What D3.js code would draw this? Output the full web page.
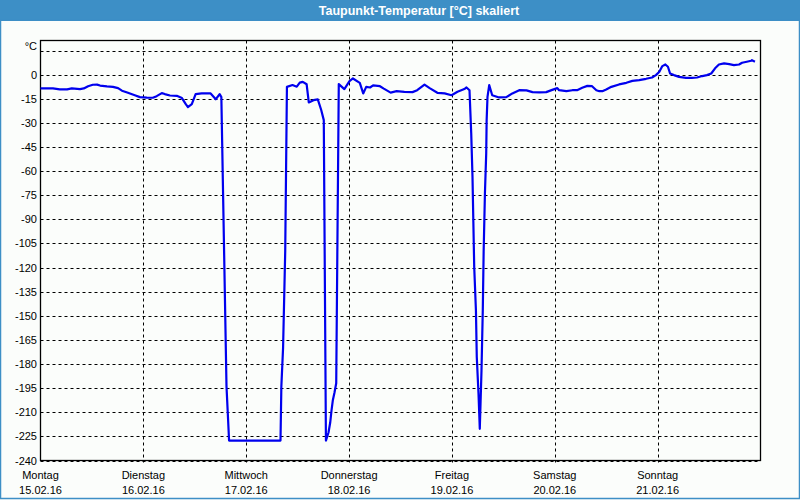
<!DOCTYPE html>
<html>
<head>
<meta charset="utf-8">
<script src="https://cdn.jsdelivr.net/npm/d3@7"></script>
<style>
  body { margin: 0; background: #fbfdfb; }
  svg { display: block; font-family: "Liberation Sans", Arial, sans-serif; }
</style>
</head>
<body>
<div id="chart"></div>
<script>
// ─── DATA ───────────────────────────────────────────────────────────────────────
const chartTitle = 'Taupunkt-Temperatur [°C] skaliert';
const unitLabel = '°C';
const dayNames = ['Montag', 'Dienstag', 'Mittwoch', 'Donnerstag', 'Freitag', 'Samstag', 'Sonntag'];
const dayDates = ['15.02.16', '16.02.16', '17.02.16', '18.02.16', '19.02.16', '20.02.16', '21.02.16'];
const yTicks = [0, -15, -30, -45, -60, -75, -90, -105, -120, -135, -150, -165, -180, -195, -210, -225, -240];

// hours since Montag 00:00
const hours = [
  0, 2.9, 4.5, 6.2, 7.3, 9.2, 10.1, 11.1, 12.2, 13.2, 13.9, 15.5, 16.9, 18.1, 19.0, 20.4, 22.0, 23.2,
  24.8, 26.2, 27.1, 28.3, 29.0, 30.2, 31.8, 33.0, 33.9, 34.4, 35.3, 36.2, 37.6, 39.7, 40.9, 41.8, 42.2,
  43.4, 43.7, 44.0, 56.0, 56.2, 56.6, 57.1, 57.5, 58.8, 59.8, 60.5, 61.2, 62.1, 62.6, 63.7, 64.7, 65.5,
  66.1, 66.6, 67.2, 67.6, 67.9, 68.2, 68.6, 69.0, 69.6, 70.9, 72.1, 72.9, 74.5, 75.3, 76.0, 76.9, 77.6,
  79.2, 80.1, 81.7, 83.1, 84.9, 86.8, 87.9, 89.6, 90.8, 92.6, 94.3, 95.9, 97.3, 98.9, 99.4, 100.1,
  100.5, 100.8, 101.0, 101.2, 101.6, 101.8, 102.2, 102.5, 102.9, 103.2, 103.4, 103.7, 104.0, 104.1,
  104.3, 104.7, 105.4, 107.0, 108.7, 110.1, 111.7, 113.4, 114.8, 116.4, 118.0, 119.4, 120.6, 121.0,
  122.7, 124.1, 125.2, 126.4, 127.6, 128.7, 129.7, 130.4, 131.1, 132.0, 133.2, 135.0, 136.7, 138.1,
  139.7, 141.3, 142.7, 143.6, 144.4, 145.1, 145.8, 146.4, 146.9, 147.8, 149.0, 150.6, 152.0, 153.2,
  154.4, 155.5, 156.5, 157.4, 158.3, 159.5, 160.7, 161.8, 163.0, 163.7, 164.8, 165.8, 166.0, 166.7
];
const dewpoint = [
  -8.6, -8.6, -9.2, -9.2, -8.6, -9.0, -8.6, -7.2, -6.3, -6.2, -6.8, -7.3, -7.6, -8.4, -10.0, -11.3, -12.8, -14.0,
  -14.3, -14.4, -13.4, -11.5, -12.1, -13.0, -13.2, -14.6, -18.4, -20.2, -18.4, -12.1, -11.7, -11.7, -15.3, -12.1, -14.0,
  -193.9, -210.6, -227.6, -227.6, -193.9, -170, -110, -7.6, -6.5, -7.5, -5.0, -4.5, -6.0, -17.3, -15.9, -15.4, -22.0,
  -28.3, -227.6, -222.6, -216.4, -208.9, -202.7, -197.7, -192.0, -5.9, -9.0, -4.0, -2.4, -5.1, -11.7, -7.6, -8.0, -6.7,
  -7.2, -8.7, -11.2, -10.3, -10.7, -10.9, -9.7, -6.2, -8.4, -11.3, -11.7, -12.8, -10.7, -9.0, -8.0, -9.7,
  -36.4, -63.6, -91.6, -119.6, -146.6, -175.7, -198.3, -220.3, -184.0, -146.6, -110.3, -74.0, -49.0, -28.3,
  -13.8, -6.5, -12.8, -14.2, -14.0, -11.7, -9.7, -9.8, -10.9, -11.1, -10.9, -9.5, -8.4, -9.7,
  -10.3, -9.7, -9.7, -8.2, -7.0, -7.2, -9.7, -10.3, -10.3, -9.2, -7.6, -6.1, -5.1, -3.9,
  -3.4, -2.6, -1.8, -0.3, 1.8, 5.3, 6.3, 4.9, 0.7, -0.3, -1.4, -2.0, -2.0, -1.8,
  -0.9, -0.3, 0.7, 3.9, 6.3, 7.0, 6.5, 5.9, 6.3, 7.4, 8.0, 8.6, 9.0, 8.0
];

// ─── DIMENSIONS ─────────────────────────────────────────────────────────────────
const W = 800, H = 500;
const plot = {left: 40.5, right: 760.5, top: 40.5, bottom: 460.5};

const svg = d3.select('#chart')
  .append('svg')
  .attr('width', W)
  .attr('height', H);

svg.append('rect')
  .attr('width', W).attr('height', H)
  .attr('fill', '#fbfdfb');

// ─── TITLE BAR ──────────────────────────────────────────────────────────────────
svg.append('rect')
  .attr('x', 0).attr('y', 0)
  .attr('width', W).attr('height', 21)
  .attr('fill', '#3d8fc6');

svg.append('text')
  .attr('x', 419).attr('y', 15)
  .attr('text-anchor', 'middle')
  .attr('fill', '#fff')
  .style('font-size', '12.5px')
  .style('font-weight', 'bold')
  .text(chartTitle);

// window border (left, right, bottom)
svg.append('rect')
  .attr('x', 0.5).attr('y', 20)
  .attr('width', W - 1).attr('height', H - 20.5 - 1)
  .attr('fill', 'none')
  .attr('stroke', '#3d8fc6')
  .attr('stroke-width', 1.5);

// ─── SCALES ─────────────────────────────────────────────────────────────────────
const x = d3.scaleLinear()
  .domain([0, 168])
  .range([plot.left, plot.right]);

const y = d3.scaleLinear()
  .domain([-240, 15])
  .range([plot.bottom, 50.5]);

// ─── GRID ───────────────────────────────────────────────────────────────────────
const dayHours = dayNames.map((d, i) => i * 24);

// horizontal
svg.append('g')
  .selectAll('line')
  .data(yTicks.concat([15]))
  .join('line')
    .attr('x1', plot.left).attr('x2', plot.right)
    .attr('y1', d => Math.round(y(d)) + 0.5)
    .attr('y2', d => Math.round(y(d)) + 0.5)
    .attr('stroke', '#000')
    .attr('stroke-dasharray', '3,3');

// vertical (with a small tick below the frame)
svg.append('g')
  .selectAll('line')
  .data(dayHours.slice(1))
  .join('line')
    .attr('x1', d => Math.round(x(d)) + 0.5)
    .attr('x2', d => Math.round(x(d)) + 0.5)
    .attr('y1', plot.top).attr('y2', plot.bottom + 2)
    .attr('stroke', '#000')
    .attr('stroke-dasharray', '3,3');

// ─── FRAME ──────────────────────────────────────────────────────────────────────
svg.append('rect')
  .attr('x', plot.left).attr('y', plot.top)
  .attr('width', plot.right - plot.left)
  .attr('height', plot.bottom - plot.top)
  .attr('fill', 'none')
  .attr('stroke', '#000')
  .attr('stroke-width', 1.3);

// ─── Y LABELS ───────────────────────────────────────────────────────────────────
svg.append('g')
  .selectAll('text')
  .data(yTicks)
  .join('text')
    .attr('x', 37)
    .attr('y', d => y(d) + 4)
    .attr('text-anchor', 'end')
    .style('font-size', '11px')
    .text(d => d);

svg.append('text')
  .attr('x', 37)
  .attr('y', y(15) - 1)
  .attr('text-anchor', 'end')
  .style('font-size', '11px')
  .text(unitLabel);

// ─── X LABELS ───────────────────────────────────────────────────────────────────
const xLab = svg.append('g')
  .selectAll('g')
  .data(dayHours)
  .join('g')
    .attr('transform', d => `translate(${x(d)},0)`);

xLab.append('text')
  .attr('y', 479)
  .attr('text-anchor', 'middle')
  .style('font-size', '11px')
  .text((d, i) => dayNames[i]);

xLab.append('text')
  .attr('y', 494)
  .attr('text-anchor', 'middle')
  .style('font-size', '11px')
  .text((d, i) => dayDates[i]);

// ─── LINE ───────────────────────────────────────────────────────────────────────
const series = hours.map((h, i) => ({h: h, v: dewpoint[i]}));

const line = d3.line()
  .x(d => x(d.h))
  .y(d => y(d.v));

svg.append('path')
  .datum(series)
  .attr('d', line)
  .attr('fill', 'none')
  .attr('stroke', '#0000ee')
  .attr('stroke-width', 2.2)
  .attr('stroke-linejoin', 'round');
</script>
</body>
</html>
